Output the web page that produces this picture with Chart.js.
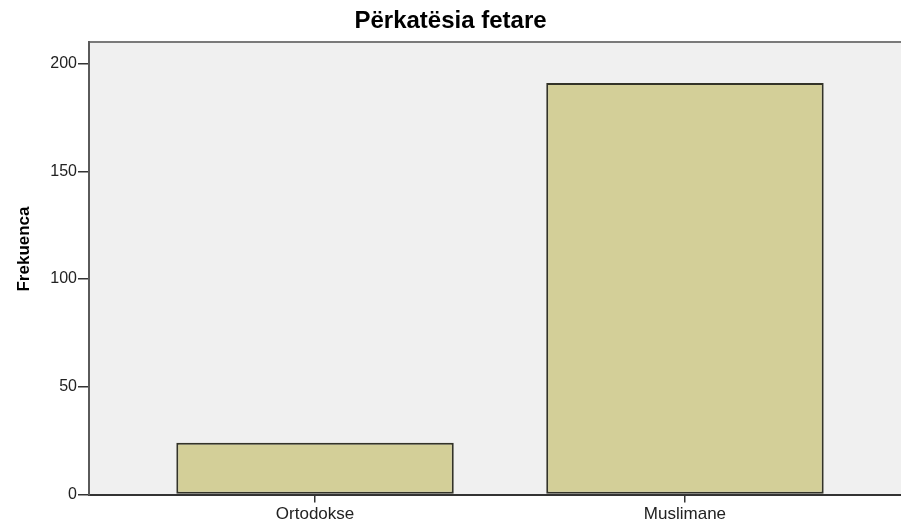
<!DOCTYPE html>
<html lang="sq">
<head>
    <meta charset="UTF-8">
    <title>Përkatësia fetare</title>
    <style>
        html, body {
            margin: 0;
            padding: 0;
            background-color: white;
        }
        #wrap {
            width: 901px;
            height: 527px;
        }
    </style>
    <script src="https://cdn.jsdelivr.net/npm/chart.js"></script>
</head>
<body>
    <div id="wrap">
        <canvas id="chart" width="901" height="527"></canvas>
    </div>

    <script>
        // të dhënat
        const categories = ['Ortodokse', 'Muslimane'];
        const frequencies = [24, 191];
        const yTicks = [0, 50, 100, 150, 200];
        const chartTitle = 'Përkatësia fetare';
        const yTitle = 'Frekuenca';

        const FONT = "Arial, 'Liberation Sans', sans-serif";

        const points = categories.map((c, i) => ({ x: i + 1, y: frequencies[i] }));

        // sfondi gri i zonës së grafikut + vija e sipërme + titulli i boshtit Y
        const plotBackground = {
            id: 'plotBackground',
            beforeDraw(chart) {
                const { ctx, chartArea } = chart;
                ctx.save();
                ctx.fillStyle = '#F0F0F0';
                ctx.fillRect(chartArea.left, chartArea.top, chartArea.right - chartArea.left, chartArea.bottom - chartArea.top);
                ctx.strokeStyle = '#7a7a7a';
                ctx.lineWidth = 2;
                ctx.beginPath();
                ctx.moveTo(chartArea.left, chartArea.top);
                ctx.lineTo(chartArea.right, chartArea.top);
                ctx.stroke();
                ctx.restore();
            },
            afterDraw(chart) {
                const { ctx } = chart;
                ctx.save();
                ctx.translate(24, 249);
                ctx.rotate(-Math.PI / 2);
                ctx.font = 'bold 17px ' + FONT;
                ctx.fillStyle = '#000';
                ctx.textAlign = 'center';
                ctx.textBaseline = 'middle';
                ctx.fillText(yTitle, 0, 0);
                ctx.restore();
            }
        };

        new Chart(document.getElementById('chart').getContext('2d'), {
            type: 'bar',
            data: {
                datasets: [{
                    label: yTitle,
                    data: points,
                    backgroundColor: '#D3CF98',
                    borderColor: '#333328',
                    borderWidth: 2,
                    borderSkipped: false,
                    categoryPercentage: 1,
                    barPercentage: 0.75
                }]
            },
            options: {
                responsive: false,
                animation: false,
                layout: { padding: { left: 0, right: 0, top: 0, bottom: 0 } },
                plugins: {
                    legend: { display: false },
                    tooltip: { enabled: false },
                    title: {
                        display: true,
                        text: chartTitle,
                        color: '#000',
                        font: { family: FONT, size: 24, weight: 'bold' },
                        padding: { top: 7, bottom: 6.2 }
                    }
                },
                scales: {
                    x: {
                        type: 'linear',
                        offset: false,
                        min: 0.389,
                        max: 2.584,
                        afterBuildTicks(scale) {
                            scale.ticks = categories.map((c, i) => ({ value: i + 1 }));
                        },
                        afterFit(scale) {
                            scale.height = 32.5;
                        },
                        ticks: {
                            color: '#222',
                            font: { family: FONT, size: 17 },
                            padding: 2,
                            maxRotation: 0,
                            callback: (v) => categories[v - 1] || ''
                        },
                        grid: {
                            offset: false,
                            drawOnChartArea: false,
                            drawTicks: true,
                            tickLength: 8,
                            color: '#333',
                            lineWidth: 1.5
                        },
                        border: { display: true, color: '#333', width: 2 }
                    },
                    y: {
                        min: 0,
                        max: 210,
                        afterBuildTicks(scale) {
                            scale.ticks = yTicks.map(v => ({ value: v }));
                        },
                        afterFit(scale) {
                            scale.width = 89;
                        },
                        ticks: {
                            color: '#222',
                            font: { family: FONT, size: 16 },
                            padding: 1
                        },
                        grid: {
                            drawOnChartArea: false,
                            drawTicks: true,
                            tickLength: 11,
                            color: '#333',
                            lineWidth: 1.5
                        },
                        border: { display: true, color: '#5a5a5a', width: 2 }
                    }
                }
            },
            plugins: [plotBackground]
        });
    </script>
</body>
</html>
